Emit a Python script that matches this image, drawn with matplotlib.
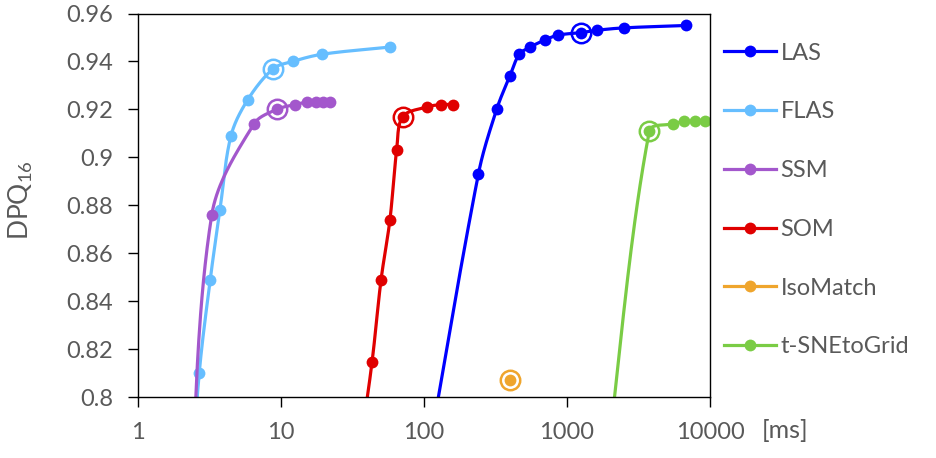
import numpy as np
import matplotlib
matplotlib.use('Agg')
import matplotlib.pyplot as plt
from matplotlib.lines import Line2D
from matplotlib.ticker import NullLocator, FixedLocator, FixedFormatter

plt.rcParams['font.family'] = ['Lato', 'DejaVu Sans']
plt.rcParams['mathtext.fontset'] = 'custom'
plt.rcParams['mathtext.rm'] = 'Lato'

TXT = '#595959'

# time in ms, quality DPQ16 (points below 0.8 are cut off by the axis)
las_t = [90, 240, 322, 399, 464, 554, 702, 869, 1253, 1614, 2493, 6794]
las_q = [0.75, 0.893, 0.920, 0.934, 0.943, 0.946, 0.949, 0.951, 0.952, 0.953, 0.954, 0.955]
flas_t = [2.35, 2.68, 3.20, 3.74, 4.47, 5.85, 8.84, 12.07, 19.4, 57.9]
flas_q = [0.76, 0.810, 0.849, 0.878, 0.909, 0.924, 0.937, 0.940, 0.943, 0.946]
ssm_t = [2.25, 3.28, 6.48, 9.33, 12.5, 15.2, 17.6, 19.7, 22.0]
ssm_q = [0.74, 0.876, 0.914, 0.920, 0.922, 0.923, 0.923, 0.923, 0.923]
som_t = [36, 43.3, 50.1, 57.8, 64.4, 71, 104.5, 130.9, 158.6]
som_q = [0.78, 0.8145, 0.849, 0.874, 0.903, 0.917, 0.921, 0.922, 0.922]
iso_t = [399]
iso_q = [0.807]
tsne_t = [1800, 3766, 5540, 6606, 7892, 9271]
tsne_q = [0.76, 0.911, 0.914, 0.915, 0.915, 0.915]

names = ['LAS', 'FLAS', 'SSM', 'SOM', 'IsoMatch', 't-SNEtoGrid']
colors = ['#0000FF', '#66BEFF', '#A357CC', '#E00000', '#EFA52D', '#7ACC45']
series_t = [las_t, flas_t, ssm_t, som_t, iso_t, tsne_t]
series_q = [las_q, flas_q, ssm_q, som_q, iso_q, tsne_q]
# index of the circled (selected) point in each series
picked = [8, 6, 3, 5, 0, 1]


def smooth(xs, ys, n=40):
    # smoothed line in screen-ish units (log x), chord length tangents
    px = np.log10(xs) * 143.0
    py = np.array(ys) / 0.000417
    pts = np.column_stack([px, py])
    if len(pts) < 2:
        return np.array(xs), np.array(ys)
    pad = np.vstack([pts[0], pts, pts[-1]])
    out = []
    t = np.linspace(0, 1, n)[:, None]
    for i in range(1, len(pad) - 2):
        p0, p1, p2, p3 = pad[i - 1], pad[i], pad[i + 1], pad[i + 2]
        d01 = np.hypot(*(p1 - p0))
        d12 = np.hypot(*(p2 - p1))
        d23 = np.hypot(*(p3 - p2))
        c1 = p1 + (p2 - p0) * d12 / max(d01 + d12, 1e-9) / 3.0
        c2 = p2 - (p3 - p1) * d12 / max(d12 + d23, 1e-9) / 3.0
        seg = ((1 - t) ** 3 * p1 + 3 * (1 - t) ** 2 * t * c1
               + 3 * (1 - t) * t ** 2 * c2 + t ** 3 * p2)
        out.append(seg)
    out = np.vstack(out)
    return 10 ** (out[:, 0] / 143.0), out[:, 1] * 0.000417


fig = plt.figure(figsize=(9.37, 4.58), dpi=100)
ax = fig.add_axes([138 / 937, 1 - 397 / 458, (710 - 138) / 937, (397 - 13.5) / 458])

for t, q, c, k in zip(series_t, series_q, colors, picked):
    sx, sy = smooth(t, q)
    ax.plot(sx, sy, '-', color=c, lw=2.3, solid_capstyle='butt')
    ax.plot(t, q, 'o', color=c, ms=8.5, mew=0)
    ax.plot([t[k]], [q[k]], 'o', ms=14, mfc='none', mec=c, mew=1.8)

ax.set_xscale('log')
ax.set_xlim(1, 10000)
ax.set_ylim(0.8, 0.96)
ax.xaxis.set_major_locator(FixedLocator([1, 10, 100, 1000, 10000]))
ax.xaxis.set_major_formatter(FixedFormatter(['1', '10', '100', '1000', '10000']))
ax.xaxis.set_minor_locator(NullLocator())
yt = [0.8, 0.82, 0.84, 0.86, 0.88, 0.9, 0.92, 0.94, 0.96]
ax.set_yticks(yt)
ax.set_yticklabels(['%g' % v for v in yt])
ax.tick_params(axis='both', direction='out', length=7, width=1, color='black',
               labelsize=17, labelcolor=TXT, pad=11)
for s in ax.spines.values():
    s.set_color('black')
    s.set_linewidth(1)

fig.text(21 / 937, 1 - 200 / 458, r'DPQ$_{\mathregular{16}}$', rotation=90,
         ha='center', va='center', fontsize=19, color=TXT)
fig.text(785 / 937, 1 - 430 / 458, '[ms]', ha='center', va='center', fontsize=18, color=TXT)

handles = [Line2D([], [], color=c, lw=2.3, marker='o', ms=8.5, mew=0) for c in colors]
leg = fig.legend(handles, names, loc='upper left', bbox_to_anchor=(724 / 937, 1 - 42.5 / 458),
                 frameon=False, fontsize=17, handlelength=2.2, handletextpad=0.2,
                 labelspacing=1.6, borderpad=0, borderaxespad=0, numpoints=1)
for txt in leg.get_texts():
    txt.set_color(TXT)

fig.savefig('out.png', dpi=100)
